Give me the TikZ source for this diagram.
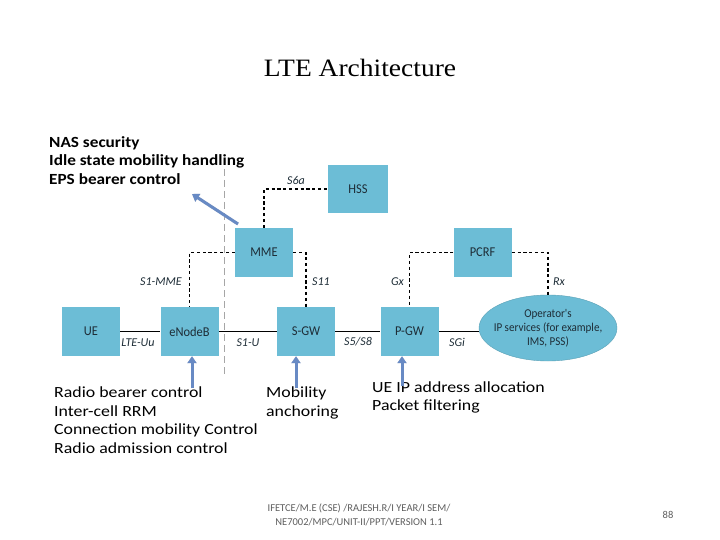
\documentclass[tikz,border=0pt]{standalone}
\usepackage{fontspec}
\setmainfont{Carlito}
\newfontfamily\titlefont[FakeStretch=1.1]{Liberation Serif}
\newfontfamily\notefont[FakeStretch=1.15]{Carlito}
\newfontfamily\notefontb[FakeStretch=1.11]{Carlito}
\newfontfamily\labfont[FakeStretch=0.92]{Carlito}
\usetikzlibrary{arrows.meta,shapes.geometric}
\definecolor{boxc}{RGB}{108,189,214}
\definecolor{arrc}{RGB}{104,138,196}
\definecolor{txtc}{RGB}{30,45,55}
\definecolor{footc}{RGB}{95,95,95}
\begin{document}
\begin{tikzpicture}[x=1pt,y=-1pt,
  box/.style={fill=boxc,minimum width=58pt,minimum height=49pt,inner sep=0pt,font=\labfont\fontsize{13.5}{15}\selectfont,text=txtc},
  iface/.style={font=\fontsize{12}{13}\selectfont\itshape,text=txtc,inner sep=1pt},
  ctl/.style={black,line width=1.2pt,dash pattern=on 3.2pt off 2.6pt},
  link/.style={black,line width=1.2pt},
  bluearrow/.style={arrc,line width=3pt,-{Triangle[width=9pt,length=7pt]}},
  shadowarrow/.style={black!30,opacity=0.5,line width=3pt,-{Triangle[width=9pt,length=7pt]}},
  note/.style={font=\notefont\fontsize{15.5}{18.5}\selectfont,align=left,anchor=north west,inner sep=0pt,text=black}]
\useasboundingbox (0,0) rectangle (720,540);
\fill[white] (0,0) rectangle (720,540);

\node[font=\titlefont\fontsize{25}{28}\selectfont] (title) at (360,68) {LTE Architecture};

% gray dashed separator
\coordinate (sepTop) at (224.5,158);
\coordinate (sepBot) at (224.5,376);
\draw[gray!70,line width=1pt,dash pattern=on 7pt off 4pt] (sepTop) -- (sepBot);

% boxes
\node[box,minimum width=60pt,minimum height=48pt] (HSS) at (358,189) {HSS};
\node[box] (MME) at (264,252.5) {MME};
\node[box] (UE) at (91,331.5) {UE};
\node[box] (ENB) at (189.5,331.5) {eNodeB};
\node[box] (SGW) at (306,331.5) {S-GW};
\node[box] (PGW) at (409.5,331.5) {P-GW};
\node[box] (PCRF) at (482.5,252.5) {PCRF};
\node[ellipse,fill=boxc,draw=boxc!85!black,line width=0.4pt,minimum width=138pt,minimum height=66pt,inner sep=0pt] (OPS) at (548,328) {};
\node[align=center,inner sep=0pt,font=\labfont\fontsize{12}{14}\selectfont,text=txtc] (OPStxt) at (OPS.center) {Operator's\\IP services (for example,\\IMS, PSS)};

% control-plane (dashed)
\draw[ctl] (MME.north) |- (HSS.west);
\draw[ctl] (MME.west) -| (ENB.north);
\draw[ctl] (MME.east) -| (SGW.north);
\draw[ctl] (PCRF.west) -| (PGW.north);
\draw[ctl] (PCRF.east) -| (OPS.north);

% user-plane (solid)
\draw[link] (UE.east) -- (ENB.west);
\draw[link] (ENB.east) -- (SGW.west);
\draw[link] (SGW.east) -- (PGW.west);
\draw[link] (PGW.east) -- (OPS.west |- PGW.east);

% interface labels
\node[iface] (lS6a) at (296,180) {S6a};
\node[iface,anchor=east] (lS1MME) at (183,282) {S1-MME};
\node[iface,anchor=west] (lS11) at (311,282) {S11};
\node[iface,anchor=east] (lGx) at (405,282) {Gx};
\node[iface,anchor=west] (lRx) at (552,282) {Rx};
\node[iface] (lUu) at (138,343) {LTE-Uu};
\node[iface] (lS1U) at (248,343) {S1-U};
\node[iface] (lS5) at (358,342) {S5/S8};
\node[iface] (lSGi) at (457,342) {SGi};

% function notes
\node[note,font=\notefontb\bfseries\fontsize{15.5}{18.5}\selectfont] (mmeNote) at (49,136) {NAS security\\Idle state mobility handling\\EPS bearer control};
\node[note] (enbNote) at (54,387) {Radio bearer control\\Inter-cell RRM\\Connection mobility Control\\Radio admission control};
\node[note] (sgwNote) at (266,387) {Mobility\\anchoring};
\node[note,font=\notefont\fontsize{15.5}{17.5}\selectfont] (pgwNote) at (372,382) {UE IP address allocation\\Packet filtering};

% blue arrows
\coordinate (aMt) at (238,224);
\coordinate (aMh) at (192,194);
\coordinate (aEt) at (192,388);
\coordinate (aSt) at (296,388);
\coordinate (aPt) at (402,386);
\begin{scope}[shift={(2,2)}]
\draw[shadowarrow] (aMt) -- (aMh);
\draw[shadowarrow] (aEt) -- (aEt |- ENB.south);
\draw[shadowarrow] (aSt) -- (aSt |- SGW.south);
\draw[shadowarrow] (aPt) -- (aPt |- PGW.south);
\end{scope}
\draw[bluearrow] (aMt) -- (aMh);
\draw[bluearrow] (aEt) -- (aEt |- ENB.south);
\draw[bluearrow] (aSt) -- (aSt |- SGW.south);
\draw[bluearrow] (aPt) -- (aPt |- PGW.south);

% footer
\node[font=\fontsize{10.5}{14}\selectfont,text=footc,align=center] (foot) at (359,515) {IFETCE/M.E (CSE) /RAJESH.R/I YEAR/I SEM/\\NE7002/MPC/UNIT-II/PPT/VERSION 1.1};
\node[font=\fontsize{10.5}{14}\selectfont,text=footc] (page) at (668,515) {88};
\end{tikzpicture}
\end{document}
